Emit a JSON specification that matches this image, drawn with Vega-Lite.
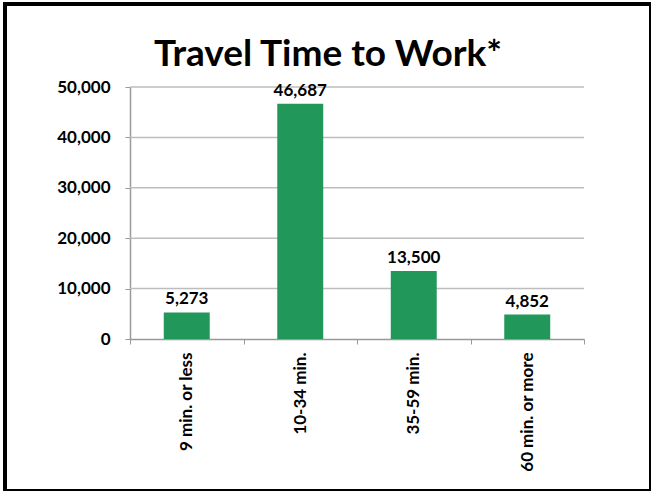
{
  "$schema": "https://vega.github.io/schema/vega-lite/v6.json",
  "width": 646,
  "height": 487,
  "autosize": {"type": "none"},
  "padding": {"left": 5, "top": 4, "right": 0, "bottom": 0},
  "background": "white",
  "config": {"view": {"stroke": "#000000", "strokeWidth": 4}, "font": "Lato"},
  "title": {"text": "Travel Time to Work*", "anchor": "middle", "frame": "group", "offset": -99, "baseline": "alphabetic", "fontSize": 37, "font": "Lato", "fontWeight": "bold", "color": "#000000"},
  "datasets": {
    "bars": [
      {"category": "9 min. or less", "value": 5273},
      {"category": "10-34 min.", "value": 46687},
      {"category": "35-59 min.", "value": 13500},
      {"category": "60 min. or more", "value": 4852}
    ],
    "grid": [
      {"v": 10000}, {"v": 20000}, {"v": 30000}, {"v": 40000}, {"v": 50000}
    ]
  },
  "layer": [
    {
      "data": {"name": "grid"},
      "mark": {"type": "rule", "color": "#bdbdbd", "strokeWidth": 1.5},
      "encoding": {
        "x": {"datum": 0, "type": "quantitative", "scale": {"domain": [0, 1], "range": [125, 579]}, "axis": null},
        "x2": {"datum": 1},
        "y": {"field": "v", "type": "quantitative", "scale": {"domain": [0, 50000], "range": [335, 83], "nice": false}, "axis": {"title": null, "orient": "left", "offset": -125, "grid": false, "values": [0, 10000, 20000, 30000, 40000, 50000], "labelExpr": "format(datum.value, ',')", "labelFont": "Lato", "labelFontWeight": "bold", "labelFontSize": 17, "labelColor": "#000000", "labelPadding": 15, "tickSize": 5, "domainColor": "#999999", "tickColor": "#999999", "domainWidth": 1.5}}
      }
    },
    {
      "data": {"name": "bars"},
      "encoding": {
        "x": {
          "field": "category", "type": "nominal", "sort": null,
          "scale": {"range": [125, 579], "paddingInner": 0, "paddingOuter": 0},
          "axis": {"title": null, "orient": "bottom", "offset": -152, "labelAngle": -90, "labelFont": "Lato", "labelFontWeight": "bold", "labelFontSize": 17, "labelColor": "#000000", "labelPadding": 8, "tickBand": "extent", "tickSize": 5, "domainColor": "#999999", "tickColor": "#999999", "domainWidth": 1.5}
        },
        "y": {
          "field": "value", "type": "quantitative",
          "scale": {"domain": [0, 50000], "range": [335, 83], "nice": false},
          "axis": {"title": null, "orient": "left", "offset": -125, "grid": false, "values": [0, 10000, 20000, 30000, 40000, 50000], "labelExpr": "format(datum.value, ',')", "labelFont": "Lato", "labelFontWeight": "bold", "labelFontSize": 17, "labelColor": "#000000", "labelPadding": 15, "tickSize": 5, "domainColor": "#999999", "tickColor": "#999999", "domainWidth": 1.5}
        }
      },
      "layer": [
        {"mark": {"type": "bar", "color": "#21975a", "width": {"band": 0.405}}},
        {
          "mark": {"type": "text", "baseline": "alphabetic", "dy": -8, "font": "Lato", "fontWeight": "bold", "fontSize": 17, "color": "#000000"},
          "encoding": {"text": {"field": "value", "type": "quantitative", "format": ","}}
        }
      ]
    }
  ],
  "resolve": {"scale": {"x": "independent"}, "axis": {"x": "independent"}}
}
